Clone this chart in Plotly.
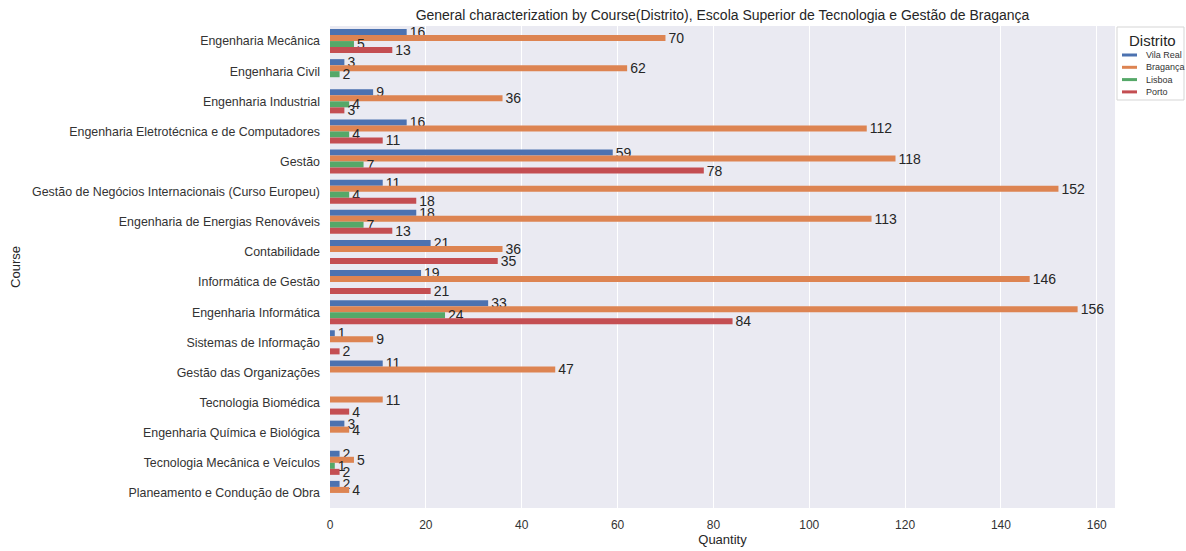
import plotly.graph_objects as go

courses = [
    "Engenharia Mecânica",
    "Engenharia Civil",
    "Engenharia Industrial",
    "Engenharia Eletrotécnica e de Computadores",
    "Gestão",
    "Gestão de Negócios Internacionais (Curso Europeu)",
    "Engenharia de Energias Renováveis",
    "Contabilidade",
    "Informática de Gestão",
    "Engenharia Informática",
    "Sistemas de Informação",
    "Gestão das Organizações",
    "Tecnologia Biomédica",
    "Engenharia Química e Biológica",
    "Tecnologia Mecânica e Veículos",
    "Planeamento e Condução de Obra",
]

vila_real = [16, 3, 9, 16, 59, 11, 18, 21, 19, 33, 1, 11, None, 3, 2, 2]
braganca = [70, 62, 36, 112, 118, 152, 113, 36, 146, 156, 9, 47, 11, 4, 5, 4]
lisboa = [5, 2, 4, 4, 7, 4, 7, None, None, 24, None, None, None, None, 1, None]
porto = [13, None, 3, 11, 78, 18, 13, 35, 21, 84, 2, None, 4, None, 2, None]

series_names = ["Vila Real", "Bragança", "Lisboa", "Porto"]
series_values = [vila_real, braganca, lisboa, porto]
series_colors = ["#4c72b0", "#dd8452", "#55a868", "#c44e52"]

W, H = 1186, 551
ML, MR, MT, MB = 330, 71, 26, 43
PW, PH = W - ML - MR, H - MT - MB


def px_x(px):
    return (px - ML) / PW


def px_y(py):
    return 1 - (py - MT) / PH


fig = go.Figure()
for name, vals, color in zip(series_names, series_values, series_colors):
    fig.add_trace(go.Bar(
        y=courses,
        x=vals,
        name=name,
        orientation="h",
        showlegend=False,
        marker=dict(color=color, line=dict(width=0)),
        text=[("" if v is None else str(v)) for v in vals],
        textposition="outside",
        constraintext="none",
        cliponaxis=False,
        textfont=dict(size=14, color="#262626", family="Liberation Sans, Arial, sans-serif"),
    ))

# Custom seaborn-like legend (outside plot, top-right)
shapes = [dict(
    type="rect", xref="paper", yref="paper",
    x0=px_x(1117), x1=px_x(1184), y0=px_y(100), y1=px_y(27),
    line=dict(color="#d5d5d5", width=1), fillcolor="white", layer="above",
)]
annotations = [dict(
    text="Distrito", xref="paper", yref="paper",
    x=px_x(1152), y=px_y(40), xanchor="center", yanchor="middle",
    showarrow=False, font=dict(size=15, color="#262626"),
)]
for i, (name, color) in enumerate(zip(series_names, series_colors)):
    yy = 55 + i * 12.3
    shapes.append(dict(
        type="line", xref="paper", yref="paper",
        x0=px_x(1122), x1=px_x(1137), y0=px_y(yy), y1=px_y(yy),
        line=dict(color=color, width=3), layer="above",
    ))
    annotations.append(dict(
        text=name, xref="paper", yref="paper",
        x=px_x(1144), y=px_y(yy), xanchor="left", yanchor="middle",
        showarrow=False, font=dict(size=9, color="#333333"),
    ))

fig.update_layout(
    barmode="group",
    bargap=0.2,
    bargroupgap=0,
    width=W,
    height=H,
    margin=dict(l=ML, r=MR, t=MT, b=MB, autoexpand=False),
    showlegend=False,
    paper_bgcolor="white",
    plot_bgcolor="#eaeaf2",
    font=dict(family="Liberation Sans, Arial, sans-serif", color="#333333", size=13),
    title=dict(
        text="General characterization by Course(Distrito), Escola Superior de Tecnologia e Gestão de Bragança",
        x=(ML + W - MR) / 2 / W,
        xanchor="center",
        y=1 - 15 / H,
        yanchor="middle",
        font=dict(size=14, color="#262626"),
    ),
    xaxis=dict(
        range=[0, 163.8],
        dtick=20,
        showgrid=True,
        gridcolor="white",
        gridwidth=1,
        zeroline=False,
        showline=False,
        ticks="",
        ticklabelstandoff=8,
        tickfont=dict(size=12, color="#333333"),
        title=dict(text="Quantity", font=dict(size=13, color="#262626"), standoff=3),
    ),
    yaxis=dict(
        autorange="reversed",
        showgrid=False,
        zeroline=False,
        ticks="",
        ticklabelstandoff=9,
        tickfont=dict(size=12.4, color="#333333"),
        title=dict(text="Course", font=dict(size=13, color="#262626"), standoff=8),
    ),
    shapes=shapes,
    annotations=annotations,
)

fig.write_html(
    "out.html",
    config={"displayModeBar": False},
    post_script=(
        "document.documentElement.style.margin='0';"
        "document.body.style.margin='0';"
        "document.documentElement.style.overflow='hidden';"
        "document.body.style.overflow='hidden';"
    ),
)
